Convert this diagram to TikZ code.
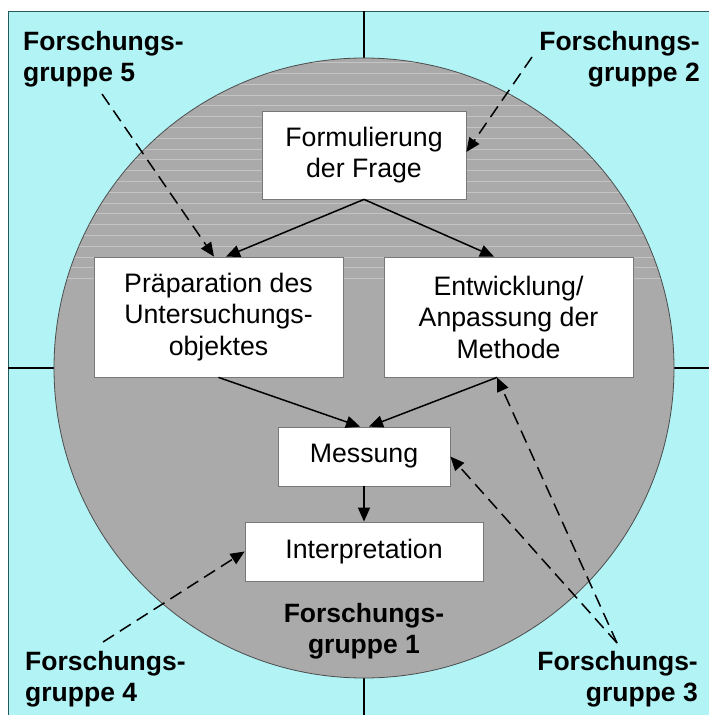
\documentclass[tikz,border=0pt]{standalone}
\usepackage{fontspec}
\setmainfont{Liberation Sans}
\usetikzlibrary{arrows.meta}

\definecolor{bgcyan}{RGB}{178,243,245}
\definecolor{frameteal}{RGB}{40,90,90}
\definecolor{discgray}{RGB}{170,170,170}
\definecolor{stripegray}{RGB}{196,196,196}
\definecolor{boxedge}{RGB}{120,120,120}

\begin{document}
\begin{tikzpicture}[x=1pt,y=-1pt,
  stagebox/.style={draw=boxedge, line width=0.8pt, fill=white, inner sep=0pt,
    align=center, font=\fontsize{26.7}{31.5}\selectfont},
  grouplabel/.style={inner sep=0pt, font=\fontsize{26.5}{31.5}\selectfont\bfseries},
  flow/.style={line width=1.5pt, -{Triangle[length=14pt,width=12pt]}},
  hint/.style={flow, dash pattern=on 13pt off 7pt}]

\useasboundingbox (0,0) rectangle (709,715);

% paper and framed background field
\fill[white] (0,0) rectangle (709,715);
\draw[fill=bgcyan, draw=frameteal, line width=1pt] (8,11) rectangle (711,717);

% axes crossing the field
\coordinate (ctr) at (364,368);
\draw[line width=2pt] (364,11) -- (364,715);
\draw[line width=2pt] (8,368) -- (709,368);

% central disc of group 1
\draw[fill=discgray, draw=black!70, line width=0.8pt] (ctr) circle[radius=310];
\begin{scope}
  \clip (ctr) circle[radius=309.4];
  \foreach \k in {0,...,20}
    \draw[stripegray, line width=1pt] (40,{62.6+10.8*\k}) -- (690,{62.6+10.8*\k});
\end{scope}

% work stages
\node[stagebox, minimum width=204pt, minimum height=88pt] (frage) at (364,155)
  {Formulierung\\der Frage};
\node[stagebox, minimum width=249pt, minimum height=120pt] (prep) at (218.5,317)
  {Präparation des\\Untersuchungs-\\objektes};
\node[stagebox, minimum width=249pt, minimum height=120pt] (entw) at (508.5,317)
  {Entwicklung/\\Anpassung der\\Methode};
\node[stagebox, minimum width=172pt, minimum height=59pt] (mess) at (364,456.5)
  {Messung};
\node[stagebox, minimum width=238pt, minimum height=59pt] (interp) at (364,551.5)
  {Interpretation};

% flow between stages
\draw[flow] (frage.south) -- ([xshift=7.5pt]prep.north);
\draw[flow] (frage.south) -- ([xshift=-14.5pt]entw.north);
\draw[flow] (prep.south) -- ([xshift=-4pt]mess.north);
\draw[flow] ([xshift=-11.5pt]entw.south) -- ([xshift=5pt]mess.north);
\draw[flow] (mess.south) -- (interp.north);

% research groups
\node[grouplabel, anchor=north west, align=left] (g5) at (23,31) {Forschungs-\\gruppe 5};
\node[grouplabel, anchor=north east, align=right] (g2) at (700,31) {Forschungs-\\gruppe 2};
\node[grouplabel, anchor=north west, align=left] (g4) at (25,651) {Forschungs-\\gruppe 4};
\node[grouplabel, anchor=north east, align=right] (g3) at (698,651) {Forschungs-\\gruppe 3};
\node[grouplabel, anchor=north, align=center] (g1) at (364,603) {Forschungs-\\gruppe 1};

% contributions of the outside groups
\coordinate (g5tail) at (102,94);
\coordinate (g2tail) at (532,57);
\coordinate (g3tail) at (617,643);
\coordinate (g4tail) at (103,642);
\draw[hint] (g5tail) -- ([xshift=-4.5pt]prep.north);
\draw[hint] (g2tail) -- ([yshift=3pt]frage.east);
\draw[hint] (g3tail) -- ([xshift=-11.5pt]entw.south);
\draw[hint] (g3tail) -- (mess.east);
\draw[hint] (g4tail) -- (interp.west);
\end{tikzpicture}
\end{document}
